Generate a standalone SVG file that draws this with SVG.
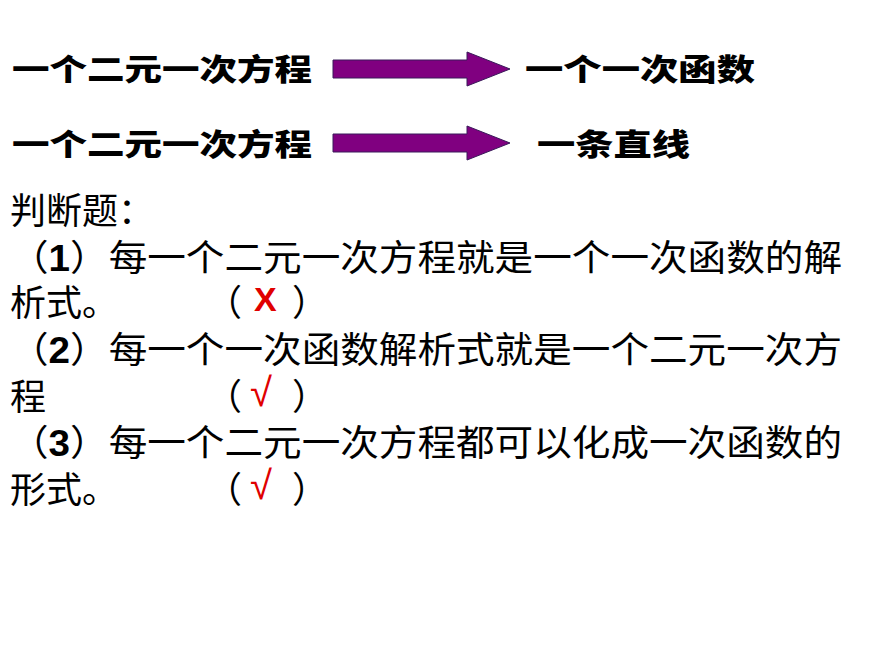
<svg xmlns="http://www.w3.org/2000/svg" width="870" height="653" viewBox="0 0 870 653">
<style>
.h{font-family:"Noto Sans CJK SC",sans-serif;font-weight:900;font-size:30px;fill:#000}
.t{font-family:"Liberation Sans","Noto Sans CJK SC",sans-serif;font-size:36px;fill:#000}
.r{font-family:"Liberation Sans",sans-serif;fill:#e00000}
.a{fill:#800080;stroke:#3a1a5a;stroke-width:1}
</style>
<rect width="870" height="653" fill="#fff"/>
<g id="row1">
<text class="h" x="12" y="80" textLength="300" lengthAdjust="spacingAndGlyphs">一个二元一次方程</text>
<text class="h" x="525" y="80" textLength="230" lengthAdjust="spacingAndGlyphs">一个一次函数</text>
</g>
<g id="row2">
<text class="h" x="12" y="155" textLength="300" lengthAdjust="spacingAndGlyphs">一个二元一次方程</text>
<text class="h" x="537" y="155" textLength="153" lengthAdjust="spacingAndGlyphs">一条直线</text>
</g>
<g id="connectors">
<polygon class="a" points="333,60 467,60 467,52 510,69 467,86 467,78 333,78"/>
<polygon class="a" points="333,134 467,134 467,126 510,143 467,160 467,152 333,152"/>
</g>
<g id="questions">
<text class="t" x="10" y="224">判断题：</text>
<text class="t" x="10" y="271" textLength="832" lengthAdjust="spacingAndGlyphs">（<tspan font-weight="bold">1</tspan>）每一个二元一次方程就是一个一次函数的解</text>
<text class="t" x="10" y="316">析式。</text>
<text class="t" x="206" y="316">（</text><text class="t" x="292" y="316">）</text>
<text class="r" x="254" y="311" font-size="34" font-weight="bold">X</text>
<text class="t" x="10" y="363" textLength="832" lengthAdjust="spacingAndGlyphs">（<tspan font-weight="bold">2</tspan>）每一个一次函数解析式就是一个二元一次方</text>
<text class="t" x="10" y="410">程</text>
<text class="t" x="206" y="410">（</text><text class="t" x="292" y="410">）</text>
<text class="r" x="250" y="406" font-size="40">√</text>
<text class="t" x="10" y="456" textLength="832" lengthAdjust="spacingAndGlyphs">（<tspan font-weight="bold">3</tspan>）每一个二元一次方程都可以化成一次函数的</text>
<text class="t" x="10" y="503">形式。</text>
<text class="t" x="206" y="503">（</text><text class="t" x="292" y="503">）</text>
<text class="r" x="250" y="499" font-size="40">√</text>
</g>
</svg>
